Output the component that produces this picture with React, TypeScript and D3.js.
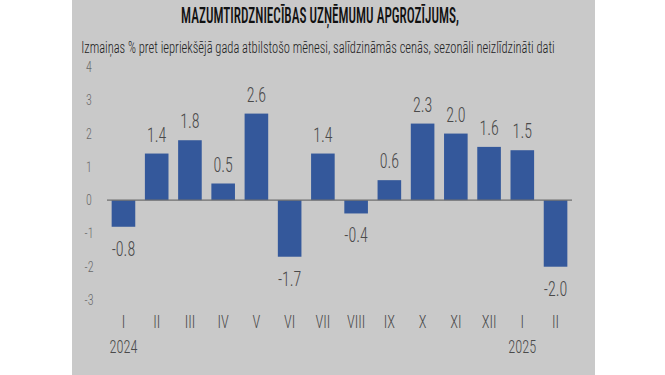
import { useEffect, useRef } from "react"
import * as d3 from "d3"

const months = ["I", "II", "III", "IV", "V", "VI", "VII", "VIII", "IX", "X", "XI", "XII", "I", "II"]
const keys = months.map((m, i) => `${i}-${m}`)
const values = [-0.8, 1.4, 1.8, 0.5, 2.6, -1.7, 1.4, -0.4, 0.6, 2.3, 2.0, 1.6, 1.5, -2.0]
const years = [
  { index: 0, label: "2024" },
  { index: 12, label: "2025" },
]
const yTicks = [-3, -2, -1, 0, 1, 2, 3, 4]

const title = "MAZUMTIRDZNIECĪBAS UZŅĒMUMU APGROZĪJUMS,"
const subtitle = "Izmaiņas % pret iepriekšējā gada atbilstošo mēnesi, salīdzināmās cenās, sezonāli neizlīdzināti dati"

const FONT = "'Roboto Condensed', 'Liberation Sans Narrow', 'DejaVu Sans Condensed', sans-serif"
const SQUEEZE = 0.8

// squeeze a centred text horizontally so it spans the wanted width
function fitScale(sel: any, cx: number, cy: number, target: number) {
  const node = sel.node() as SVGTextElement | null
  if (!node) return
  const w = node.getComputedTextLength()
  if (w <= 0) return
  const k = Math.min(1, target / w)
  sel.attr("transform", `translate(${cx},${cy}) scale(${k},1) translate(${-cx},${-cy})`)
}

const at = (cx: number, cy: number) => `translate(${cx},${cy}) scale(${SQUEEZE},1)`

export default function App() {
  const svgRef = useRef<SVGSVGElement>(null)
  const width = 665
  const height = 375

  useEffect(() => {
    if (!svgRef.current) return
    const svg = d3.select(svgRef.current)
    svg.selectAll("*").remove()

    // grey panel
    svg.append("rect")
      .attr("x", 72).attr("y", 0)
      .attr("width", 523).attr("height", height)
      .attr("fill", "#c9c9c9")

    const t = svg.append("text")
      .attr("x", 320).attr("y", 23)
      .attr("text-anchor", "middle")
      .attr("font-family", FONT)
      .attr("font-size", 22)
      .attr("font-weight", 500)
      .attr("fill", "#111")
      .text(title)
    fitScale(t, 320, 23, 278)

    const s = svg.append("text")
      .attr("x", 318).attr("y", 53)
      .attr("text-anchor", "middle")
      .attr("font-family", FONT)
      .attr("font-size", 17)
      .attr("font-weight", 300)
      .attr("fill", "#222")
      .text(subtitle)
    fitScale(s, 318, 53, 474)

    const x = d3.scaleBand<string>()
      .domain(keys)
      .range([107, 572])
      .paddingInner(0.29)
      .paddingOuter(0.14)

    const y = d3.scaleLinear()
      .domain([-3, 4])
      .range([300, 67])

    const cx = (i: number) => x(keys[i])! + x.bandwidth() / 2

    // y tick labels
    svg.append("g")
      .selectAll("text")
      .data(yTicks)
      .join("text")
      .attr("transform", d => at(89, y(d) + 5))
      .attr("text-anchor", "middle")
      .attr("font-family", FONT)
      .attr("font-size", 15)
      .attr("font-weight", 300)
      .attr("fill", "#6a6a6a")
      .text(d => d)

    // bars
    svg.append("g")
      .selectAll("rect")
      .data(values)
      .join("rect")
      .attr("x", (_, i) => x(keys[i])!)
      .attr("y", d => y(Math.max(0, d)))
      .attr("width", x.bandwidth())
      .attr("height", d => Math.abs(y(d) - y(0)))
      .attr("fill", "#34589b")

    // zero line
    svg.append("line")
      .attr("x1", 107).attr("x2", 572)
      .attr("y1", y(0)).attr("y2", y(0))
      .attr("stroke", "#6f6f6f")
      .attr("stroke-width", 1.2)

    // value labels
    svg.append("g")
      .selectAll("text")
      .data(values)
      .join("text")
      .attr("transform", (d, i) => at(cx(i), d >= 0 ? y(d) - 12 : y(d) + 29))
      .attr("text-anchor", "middle")
      .attr("font-family", FONT)
      .attr("font-size", 20)
      .attr("font-weight", 300)
      .attr("fill", "#4a4a4a")
      .text(d => d.toFixed(1))

    // month labels
    svg.append("g")
      .selectAll("text")
      .data(months)
      .join("text")
      .attr("transform", (_, i) => at(cx(i), 328))
      .attr("text-anchor", "middle")
      .attr("font-family", FONT)
      .attr("font-size", 18)
      .attr("font-weight", 300)
      .attr("fill", "#4a4a4a")
      .text(d => d)

    // year labels
    svg.append("g")
      .selectAll("text")
      .data(years)
      .join("text")
      .attr("transform", d => at(cx(d.index), 353))
      .attr("text-anchor", "middle")
      .attr("font-family", FONT)
      .attr("font-size", 18)
      .attr("font-weight", 300)
      .attr("fill", "#4a4a4a")
      .text(d => d.label)
  }, [])

  return (
    <svg
      ref={svgRef}
      width={width}
      height={height}
      style={{ position: "absolute", left: 0, top: 0, display: "block" }}
    />
  )
}
